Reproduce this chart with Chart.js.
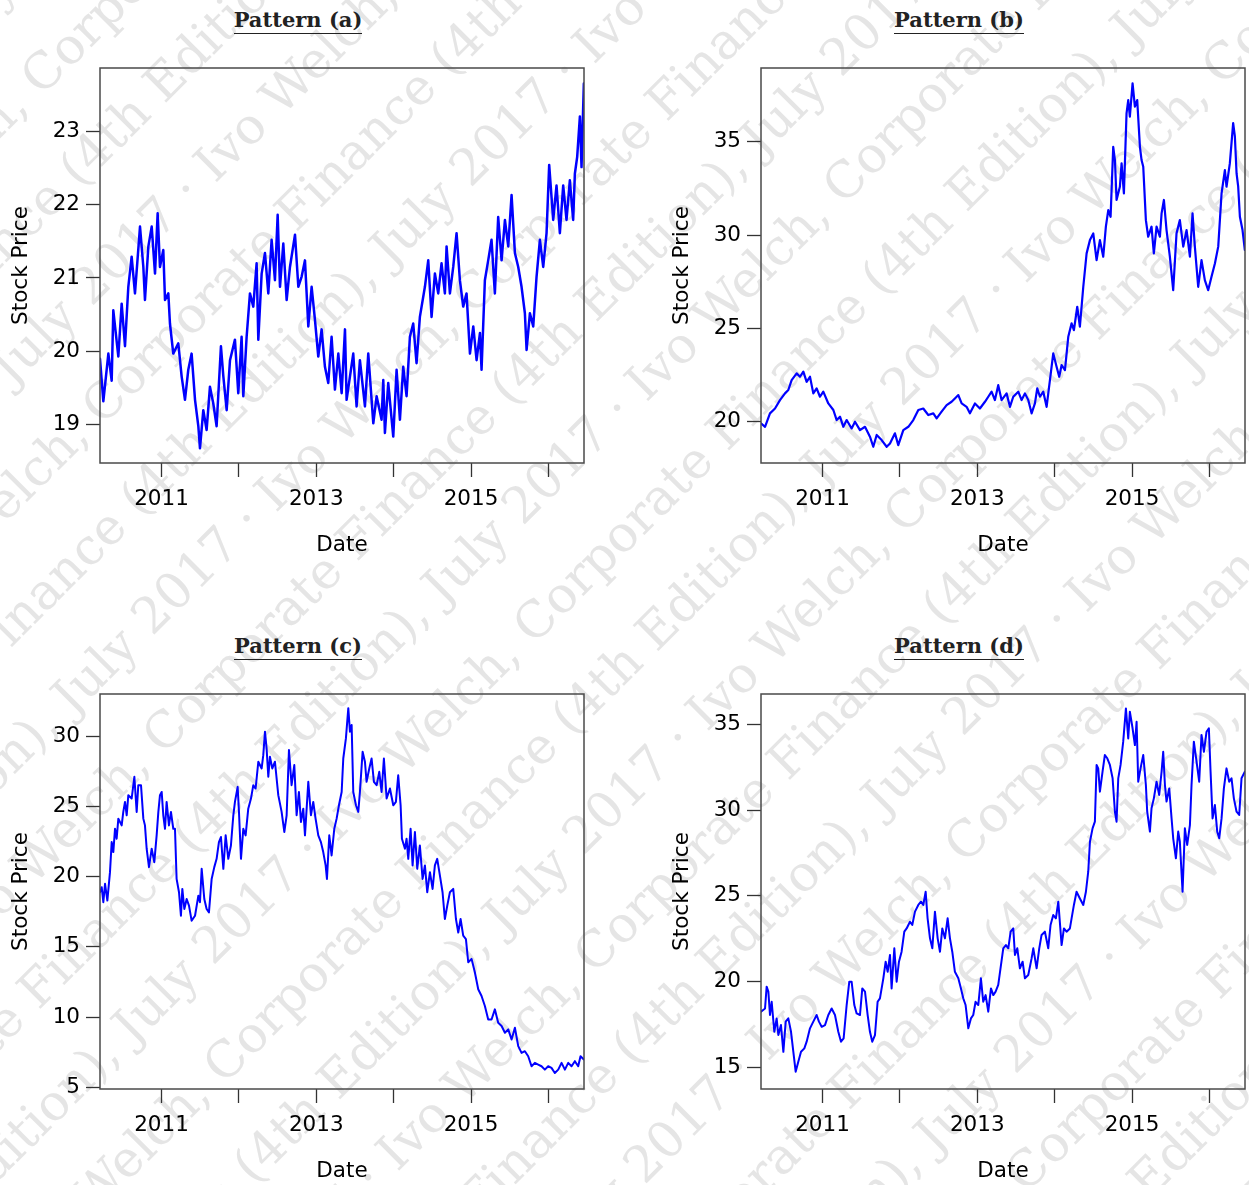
<!DOCTYPE html>
<html>
<head>
<meta charset="utf-8">
<script src="https://cdn.jsdelivr.net/npm/chart.js@4.4.1/dist/chart.umd.min.js"></script>
<style>
  html, body { margin: 0; padding: 0; background: #fff; }
  body { width: 1249px; height: 1185px; position: relative; overflow: hidden; }
  #wm { position: absolute; left: 0; top: 0; transform: rotate(-45deg); transform-origin: 0 0;
        font-family: "DejaVu Serif", serif; font-size: 50px; color: #e5e5e5; white-space: nowrap; pointer-events: none; }
  #wm div { position: absolute; }
  .panel { position: absolute; }
  .ttl { position: absolute; width: 596px; text-align: center; font-family: "DejaVu Serif", serif;
         font-weight: bold; font-size: 21px; line-height: 21px; color: #222; }
  .ttl span { display: inline-block; padding-bottom: 3px; border-bottom: 1.5px solid #222; }
</style>
</head>
<body>
<div id="wm"></div>
<div class="ttl" style="left:0;top:9px"><span>Pattern (a)</span></div>
<div class="ttl" style="left:661px;top:9px"><span>Pattern (b)</span></div>
<div class="ttl" style="left:0;top:635px"><span>Pattern (c)</span></div>
<div class="ttl" style="left:661px;top:635px"><span>Pattern (d)</span></div>
<canvas id="chart-a" class="panel" width="600" height="560" style="left:0;top:0"></canvas>
<canvas id="chart-b" class="panel" width="588" height="560" style="left:661px;top:0"></canvas>
<canvas id="chart-c" class="panel" width="600" height="560" style="left:0;top:626px"></canvas>
<canvas id="chart-d" class="panel" width="588" height="560" style="left:661px;top:626px"></canvas>
<script>
/* four simulated stock price paths, 2010-2016 */

const yearTicks = [2011, 2012, 2013, 2014, 2015, 2016];
const yearLabels = ["2011", "", "2013", "", "2015", ""];
const xMin = 2010.205, xMax = 2016.46;

const ticksA = [19, 20, 21, 22, 23];
const ticksB = [20, 25, 30, 35];
const ticksC = [5, 10, 15, 20, 25, 30];
const ticksD = [15, 20, 25, 30, 35];

const yearsA = [
  2010.205, 2010.248, 2010.313, 2010.356, 2010.377, 2010.442, 2010.485, 2010.528, 2010.571, 2010.614,
  2010.657, 2010.722, 2010.765, 2010.786, 2010.830, 2010.873, 2010.916, 2010.950, 2010.980, 2011.023,
  2011.045, 2011.088, 2011.109, 2011.152, 2011.217, 2011.260, 2011.303, 2011.346, 2011.389, 2011.433,
  2011.476, 2011.497, 2011.540, 2011.583, 2011.626, 2011.669, 2011.712, 2011.768, 2011.799, 2011.842,
  2011.885, 2011.949, 2011.992, 2012.035, 2012.057, 2012.100, 2012.143, 2012.186, 2012.229, 2012.251,
  2012.294, 2012.337, 2012.380, 2012.423, 2012.466, 2012.501, 2012.531, 2012.574, 2012.617, 2012.660,
  2012.725, 2012.768, 2012.811, 2012.854, 2012.897, 2012.940, 2012.983, 2013.026, 2013.069, 2013.112,
  2013.155, 2013.198, 2013.241, 2013.285, 2013.328, 2013.371,
  2013.392, 2013.478, 2013.521, 2013.564, 2013.629, 2013.672, 2013.737, 2013.780, 2013.844, 2013.866,
  2013.887, 2013.930, 2013.995, 2014.038, 2014.081, 2014.124, 2014.167, 2014.210, 2014.253, 2014.296,
  2014.339, 2014.404, 2014.447, 2014.490, 2014.533, 2014.576, 2014.619, 2014.662, 2014.684, 2014.727,
  2014.770, 2014.813, 2014.856, 2014.899, 2014.942, 2014.986, 2015.029, 2015.072, 2015.115, 2015.136,
  2015.179, 2015.222, 2015.265, 2015.308, 2015.351, 2015.395, 2015.438, 2015.481, 2015.524, 2015.567,
  2015.610, 2015.653, 2015.696, 2015.718, 2015.761, 2015.804, 2015.847, 2015.890, 2015.933, 2015.976,
  2016.010, 2016.062, 2016.105, 2016.148, 2016.191, 2016.234, 2016.277, 2016.320, 2016.342, 2016.372,
  2016.407, 2016.428, 2016.458
];
const pricesA = [
  19.90, 19.32, 19.97, 19.60, 20.56, 19.93, 20.65, 20.07, 20.88, 21.29,
  20.79, 21.70, 21.15, 20.70, 21.43, 21.70, 21.06, 21.88, 21.15, 21.38,
  20.70, 20.79, 20.38, 19.97, 20.11, 19.66, 19.34, 19.75, 19.97, 19.34,
  18.98, 18.68, 19.20, 18.93, 19.52, 19.29, 18.98, 20.07, 19.66, 19.20,
  19.88, 20.16, 19.43, 20.20, 19.39, 20.20, 20.79, 20.61, 21.20, 20.16,
  21.06, 21.34, 20.79, 21.52, 20.97, 21.86, 20.88, 21.47, 20.70, 21.15,
  21.59, 20.88, 21.02, 21.24, 20.34, 20.88, 20.43, 19.93, 20.30, 19.79,
  19.57, 20.20, 19.48, 19.97, 19.43, 20.30,
  19.34, 19.97, 19.25, 19.88, 19.25, 19.97, 19.02, 19.39, 19.07, 19.61,
  18.89, 19.57, 18.84, 19.75, 19.07, 19.79, 19.39, 20.20, 20.38, 19.84,
  20.47, 20.88, 21.24, 20.47, 21.06, 20.79, 21.20, 20.79, 21.43, 20.79,
  21.15, 21.61, 20.97, 20.61, 20.79, 19.97, 20.34, 19.88, 20.25, 19.75,
  20.97, 21.24, 21.52, 20.79, 21.83, 21.24, 21.79, 21.43, 22.13, 21.34,
  21.15, 20.88, 20.52, 20.02, 20.52, 20.34, 21.02, 21.52, 21.15, 21.61,
  22.54, 21.79, 22.26, 21.61, 22.26, 21.79, 22.33, 21.79, 22.42, 22.65,
  23.20, 22.51, 23.65
];

const yearsB = [
  2010.205, 2010.257, 2010.321, 2010.386, 2010.450, 2010.515, 2010.558, 2010.601, 2010.666, 2010.709,
  2010.752, 2010.795, 2010.838, 2010.881, 2010.924, 2010.967, 2011.010, 2011.075, 2011.140, 2011.183,
  2011.226, 2011.269, 2011.312, 2011.376, 2011.420, 2011.484, 2011.549, 2011.613, 2011.656, 2011.700,
  2011.764, 2011.829, 2011.872, 2011.936, 2011.979, 2012.044, 2012.109, 2012.173, 2012.238, 2012.302,
  2012.367, 2012.432, 2012.475, 2012.539, 2012.604, 2012.668, 2012.711, 2012.755, 2012.798, 2012.862,
  2012.905, 2012.970, 2013.034, 2013.099, 2013.142, 2013.185, 2013.228, 2013.271, 2013.314,
  2013.379, 2013.422, 2013.465, 2013.530, 2013.573, 2013.616, 2013.659, 2013.702, 2013.745, 2013.775,
  2013.810, 2013.853, 2013.896, 2013.939, 2013.982, 2014.025, 2014.059, 2014.090, 2014.133, 2014.176,
  2014.219, 2014.249, 2014.292, 2014.326, 2014.370, 2014.413, 2014.456, 2014.499, 2014.542, 2014.585,
  2014.628, 2014.662, 2014.693, 2014.723, 2014.757, 2014.779, 2014.800, 2014.843, 2014.865, 2014.895,
  2014.929, 2014.951, 2014.972, 2015.007, 2015.037, 2015.067, 2015.102, 2015.123, 2015.145, 2015.179,
  2015.209, 2015.252, 2015.282, 2015.317, 2015.360, 2015.382, 2015.412, 2015.446, 2015.489, 2015.532,
  2015.575, 2015.618, 2015.662, 2015.705, 2015.748, 2015.782, 2015.812, 2015.855, 2015.898, 2015.941,
  2015.984, 2016.027, 2016.071, 2016.114, 2016.157, 2016.200, 2016.221, 2016.264, 2016.307, 2016.329,
  2016.351, 2016.372, 2016.394, 2016.428, 2016.458
];
const pricesB = [
  19.91, 19.73, 20.45, 20.71, 21.16, 21.52, 21.70, 22.23, 22.59, 22.41,
  22.68, 22.14, 22.41, 21.52, 21.79, 21.34, 21.61, 20.98, 20.63, 20.09,
  20.27, 19.73, 20.09, 19.64, 20.00, 19.55, 19.73, 19.20, 18.66, 19.29,
  19.02, 18.66, 18.84, 19.38, 18.75, 19.55, 19.73, 20.09, 20.63, 20.71,
  20.36, 20.45, 20.18, 20.54, 20.89, 21.07, 21.25, 21.43, 20.98, 20.80,
  20.45, 20.98, 20.71, 21.07, 21.34, 21.61, 21.16, 21.96, 21.16,
  21.52, 20.80, 21.34, 21.61, 21.16, 21.52, 21.16, 20.45, 20.98, 21.79,
  21.34, 21.61, 20.80, 22.23, 23.66, 22.95, 22.41, 23.04, 22.77, 24.55,
  25.27, 24.91, 26.16, 25.09, 27.23, 29.02, 29.73, 30.09, 28.66, 29.73,
  28.84, 30.45, 31.34, 30.98, 34.73, 34.02, 31.88, 32.59, 33.84, 32.23,
  36.52, 37.23, 36.34, 38.13, 36.88, 37.23, 34.73, 34.02, 33.66, 30.80,
  29.91, 30.45, 29.02, 30.45, 29.91, 31.16, 31.88, 30.27, 28.84, 27.05,
  30.09, 30.80, 29.38, 30.27, 28.84, 31.16, 29.38, 27.23, 28.66, 27.59,
  27.05, 27.77, 28.48, 29.38, 32.23, 33.48, 32.59, 33.84, 36.00, 35.29,
  33.30, 32.59, 30.98, 30.27, 29.20
];

const yearsC = [
  2010.205, 2010.227, 2010.248, 2010.270, 2010.300, 2010.334, 2010.356, 2010.377, 2010.399, 2010.420,
  2010.442, 2010.485, 2010.506, 2010.528, 2010.550, 2010.571, 2010.614, 2010.649, 2010.679, 2010.700,
  2010.735, 2010.765, 2010.786, 2010.808, 2010.838, 2010.873, 2010.907, 2010.937, 2010.959, 2010.980,
  2011.002, 2011.023, 2011.045, 2011.066, 2011.096, 2011.122, 2011.152, 2011.174, 2011.195, 2011.226,
  2011.251, 2011.269, 2011.295, 2011.325, 2011.355, 2011.389, 2011.433, 2011.476, 2011.497, 2011.519,
  2011.553, 2011.583, 2011.613, 2011.648, 2011.682, 2011.712, 2011.742, 2011.768, 2011.799, 2011.829,
  2011.863, 2011.897, 2011.928, 2011.949, 2011.984, 2012.001, 2012.027, 2012.057, 2012.087, 2012.121,
  2012.156, 2012.186, 2012.216, 2012.251, 2012.294, 2012.315, 2012.337, 2012.358, 2012.380, 2012.401,
  2012.432, 2012.466, 2012.509, 2012.552, 2012.587, 2012.617, 2012.647, 2012.681, 2012.716, 2012.746,
  2012.776, 2012.802, 2012.832, 2012.854, 2012.897, 2012.931, 2012.961, 2012.991, 2013.026, 2013.060,
  2013.090, 2013.121, 2013.138, 2013.168, 2013.198, 2013.233, 2013.263, 2013.293, 2013.328,
  2013.349, 2013.383, 2013.414, 2013.435, 2013.457, 2013.478, 2013.513, 2013.543, 2013.564, 2013.599,
  2013.629, 2013.650, 2013.685, 2013.715, 2013.745, 2013.780, 2013.814, 2013.844, 2013.874, 2013.909,
  2013.952, 2013.995, 2014.029, 2014.059, 2014.090, 2014.107, 2014.146, 2014.167, 2014.189, 2014.219,
  2014.245, 2014.275, 2014.305, 2014.339, 2014.374, 2014.404, 2014.434, 2014.469, 2014.503, 2014.533,
  2014.563, 2014.598, 2014.632, 2014.662, 2014.693, 2014.727, 2014.770, 2014.805, 2014.835, 2014.865,
  2014.899, 2014.934, 2014.964, 2015.007, 2015.050, 2015.093, 2015.136, 2015.179, 2015.222, 2015.265,
  2015.308, 2015.351, 2015.395, 2015.438, 2015.481, 2015.524, 2015.567, 2015.610, 2015.653, 2015.696,
  2015.739, 2015.782, 2015.825, 2015.868, 2015.911, 2015.954, 2015.997, 2016.040, 2016.083, 2016.127,
  2016.170, 2016.213, 2016.256, 2016.299, 2016.342, 2016.385, 2016.415, 2016.458
];
const pricesC = [
  18.88, 19.24, 18.17, 19.48, 18.29, 20.31, 22.45, 21.74, 23.40, 22.69,
  24.12, 23.64, 24.60, 25.31, 24.36, 25.79, 25.55, 27.10, 24.60, 26.50,
  26.50, 24.12, 23.64, 21.98, 20.67, 21.98, 21.02, 22.93, 24.60, 25.79,
  26.02, 24.36, 23.40, 25.31, 23.64, 24.60, 23.40, 23.40, 19.83, 18.88,
  17.21, 19.12, 17.69, 18.40, 17.93, 16.86, 17.21, 18.64, 18.17, 20.55,
  18.40, 17.69, 17.45, 19.83, 20.67, 21.26, 22.45, 22.81, 20.55, 22.93,
  21.26, 22.21, 24.36, 25.31, 26.38, 24.60, 21.26, 23.40, 22.93, 24.83,
  25.55, 26.50, 26.26, 28.17, 27.69, 28.64, 30.31, 29.12, 27.10, 28.52,
  27.69, 28.17, 25.79, 24.60, 23.17, 24.36, 29.00, 26.50, 27.93, 24.36,
  26.02, 23.88, 24.83, 22.93, 26.74, 24.36, 25.31, 24.12, 22.93, 22.45,
  21.74, 20.79, 19.83, 22.93, 21.50, 23.40, 24.12, 25.07, 26.02,
  28.40, 29.83, 31.98, 30.31, 30.79, 26.02, 25.07, 24.60, 26.02, 28.88,
  28.17, 26.74, 27.69, 28.40, 26.74, 26.50, 27.45, 26.02, 28.40, 25.55,
  26.26, 25.07, 25.31, 27.21, 25.07, 22.69, 21.98, 22.69, 21.26, 23.40,
  20.79, 23.17, 20.55, 22.21, 19.83, 20.79, 18.88, 20.31, 19.12, 20.79,
  21.26, 20.07, 18.88, 16.98, 17.93, 18.88, 19.12, 16.98, 16.02, 16.98,
  15.79, 15.55, 13.90, 14.14, 13.17, 11.98, 11.50, 10.79, 9.83, 9.83,
  10.55, 9.60, 9.36, 8.88, 9.12, 8.40, 9.24, 7.93, 7.45, 7.57,
  7.21, 6.50, 6.74, 6.62, 6.50, 6.26, 6.50, 6.38, 6.02, 6.26,
  6.74, 6.26, 6.74, 6.50, 6.86, 6.50, 7.21, 6.98
];

const yearsD = [
  2010.205, 2010.257, 2010.278, 2010.300, 2010.321, 2010.343, 2010.377, 2010.407, 2010.429, 2010.463,
  2010.494, 2010.524, 2010.558, 2010.593, 2010.623, 2010.653, 2010.687, 2010.722, 2010.765, 2010.795,
  2010.838, 2010.881, 2010.924, 2010.954, 2010.989, 2011.032, 2011.075, 2011.118, 2011.161, 2011.204,
  2011.239, 2011.273, 2011.312, 2011.346, 2011.376, 2011.411, 2011.441, 2011.484, 2011.514, 2011.549,
  2011.583, 2011.613, 2011.643, 2011.678, 2011.712, 2011.742, 2011.786, 2011.816, 2011.842, 2011.872,
  2011.893, 2011.928, 2011.958, 2011.988, 2012.022, 2012.057, 2012.087, 2012.130, 2012.160, 2012.195,
  2012.238, 2012.272, 2012.302, 2012.333, 2012.358, 2012.389, 2012.419, 2012.453, 2012.488, 2012.518,
  2012.548, 2012.582, 2012.617, 2012.647, 2012.677, 2012.711, 2012.755, 2012.789, 2012.819, 2012.849,
  2012.884, 2012.918, 2012.948, 2012.978, 2013.013, 2013.047, 2013.077, 2013.108, 2013.142, 2013.177,
  2013.207, 2013.237, 2013.271,
  2013.336, 2013.370, 2013.401, 2013.431, 2013.465, 2013.487, 2013.517, 2013.551, 2013.586, 2013.616,
  2013.659, 2013.702, 2013.724, 2013.767, 2013.801, 2013.831, 2013.874, 2013.917, 2013.947, 2013.982,
  2014.016, 2014.047, 2014.090, 2014.120, 2014.154, 2014.197, 2014.219, 2014.249, 2014.283, 2014.326,
  2014.370, 2014.404, 2014.434, 2014.456, 2014.490, 2014.520, 2014.542, 2014.563, 2014.585, 2014.619,
  2014.649, 2014.680, 2014.714, 2014.749, 2014.779, 2014.800, 2014.822, 2014.852, 2014.886, 2014.921,
  2014.951, 2014.972, 2015.007, 2015.037, 2015.059, 2015.080, 2015.110, 2015.145, 2015.179, 2015.196,
  2015.231, 2015.252, 2015.282, 2015.317, 2015.351, 2015.382, 2015.403, 2015.425, 2015.446, 2015.481,
  2015.511, 2015.532, 2015.567, 2015.597, 2015.618, 2015.653, 2015.683, 2015.713, 2015.748, 2015.769,
  2015.799, 2015.834, 2015.868, 2015.898, 2015.929, 2015.963, 2015.993, 2016.015, 2016.041, 2016.071,
  2016.101, 2016.127, 2016.157, 2016.187, 2016.221, 2016.256, 2016.286, 2016.316, 2016.351, 2016.385,
  2016.415, 2016.458
];
const pricesD = [
  18.23, 18.42, 19.69, 19.40, 18.04, 18.81, 17.06, 17.84, 16.87, 17.45,
  15.89, 17.65, 17.84, 17.06, 15.89, 14.73, 15.31, 15.89, 16.09, 16.48,
  17.26, 17.65, 18.04, 17.65, 17.35, 17.45, 18.04, 18.42, 18.04, 17.06,
  16.48, 16.67, 18.62, 19.98, 19.98, 18.62, 18.13, 18.04, 19.59, 19.40,
  18.04, 17.06, 16.48, 16.87, 18.81, 19.01, 20.18, 21.15, 20.56, 21.54,
  19.59, 21.93, 19.98, 21.15, 21.73, 22.90, 23.09, 23.48, 23.29, 24.07,
  24.46, 24.65, 24.46, 25.23, 23.68, 22.51, 21.93, 24.07, 22.51, 21.73,
  23.09, 22.51, 23.68, 22.51, 21.73, 20.56, 20.18, 19.59, 19.01, 18.62,
  17.26, 17.84, 18.04, 18.81, 18.62, 20.18, 18.81, 19.20, 18.23, 19.59,
  19.20, 19.40, 19.79,
  21.93, 22.12, 21.93, 22.90, 23.09, 21.54, 21.93, 20.76, 21.15, 20.18,
  20.37, 21.34, 21.93, 20.76, 21.93, 22.71, 22.90, 21.93, 23.29, 23.87,
  23.68, 24.65, 22.12, 23.09, 22.90, 23.09, 23.68, 24.46, 25.23, 24.84,
  24.46, 25.23, 26.40, 28.15, 28.93, 29.32, 32.63, 32.43, 31.07, 32.24,
  33.21, 33.02, 32.63, 31.85, 29.90, 29.32, 31.85, 32.63, 33.99, 35.93,
  34.18, 35.74, 34.77, 33.79, 35.15, 31.65, 32.43, 33.21, 31.46, 29.90,
  28.74, 30.10, 30.68, 31.65, 30.88, 32.24, 33.40, 31.46, 30.49, 31.26,
  29.51, 28.35, 27.18, 28.74, 28.15, 25.23, 28.93, 27.96, 29.12, 31.46,
  33.99, 32.82, 31.65, 34.38, 33.40, 34.57, 34.77, 32.24, 29.51, 30.29,
  28.74, 28.35, 29.51, 31.26, 32.43, 31.65, 31.85, 30.68, 29.90, 29.71,
  31.85, 32.24
];

const wmText = "Ivo Welch, Corporate Finance (4th Edition), July 2017 \u00b7 ";

const AXIS_FONT = { family: "DejaVu Sans", size: 21.5 };

const frameBox = {
  id: "frameBox",
  afterDatasetsDraw(chart) {
    const { ctx, chartArea: a } = chart;
    ctx.save();
    ctx.strokeStyle = "#4a4a4a";
    ctx.lineWidth = 1.5;
    ctx.strokeRect(a.left, a.top, a.right - a.left, a.bottom - a.top);
    ctx.restore();
  },
};

function renderPanel(canvasId, years, prices, yMin, yMax, yTicks, lineWidth) {
  const canvas = document.getElementById(canvasId);
  if (!canvas || typeof Chart === "undefined") return;
  const rightPad = canvas.width - 584;
  new Chart(canvas, {
    type: "line",
    data: {
      datasets: [{
        data: years.map((x, i) => ({ x, y: prices[i] })),
        borderColor: "#0000ff",
        borderWidth: lineWidth,
        borderJoinStyle: "round",
        borderCapStyle: "round",
        pointRadius: 0,
        tension: 0,
        fill: false,
      }],
    },
    options: {
      responsive: false,
      animation: false,
      devicePixelRatio: 1,
      layout: { padding: { left: 0, right: rightPad, top: 68, bottom: 0 } },
      plugins: { legend: { display: false }, tooltip: { enabled: false } },
      scales: {
        x: {
          type: "linear",
          min: xMin,
          max: xMax,
          afterBuildTicks: (s) => { s.ticks = yearTicks.map((v) => ({ value: v })); },
          afterFit: (s) => { s.height = 97; },
          grid: { drawOnChartArea: false, drawTicks: true, tickLength: 14, tickColor: "#333", tickWidth: 1.3 },
          border: { display: false },
          ticks: {
            autoSkip: false, maxRotation: 0, padding: 10, color: "#000", font: AXIS_FONT,
            callback: (v) => yearLabels[yearTicks.indexOf(v)],
          },
          title: { display: true, text: "Date", color: "#000", font: AXIS_FONT, padding: { top: 0, bottom: 2 } },
        },
        y: {
          min: yMin,
          max: yMax,
          afterBuildTicks: (s) => { s.ticks = yTicks.map((v) => ({ value: v })); },
          afterFit: (s) => { s.width = 100; },
          grid: { drawOnChartArea: false, drawTicks: true, tickLength: 14, tickColor: "#333", tickWidth: 1.3 },
          border: { display: false },
          ticks: { autoSkip: false, padding: 6, color: "#000", font: AXIS_FONT },
          title: { display: true, text: "Stock Price", color: "#000", font: AXIS_FONT, padding: { top: 9, bottom: 0 } },
        },
      },
    },
    plugins: [frameBox],
  });
}

function drawWatermark() {
  const wm = document.getElementById("wm");
  for (let k = 0; k < 21; k++) {
    const line = document.createElement("div");
    line.textContent = wmText.repeat(5);
    line.style.top = (k * 92 - 40) + "px";
    line.style.left = (-1200 - (k * 530) % 1400) + "px";
    wm.appendChild(line);
  }
}

drawWatermark();
renderPanel("chart-a", yearsA, pricesA, 18.48, 23.86, ticksA, 2.5);
renderPanel("chart-b", yearsB, pricesB, 17.79, 38.95, ticksB, 2.2);
renderPanel("chart-c", yearsC, pricesC, 4.88, 32.99, ticksC, 2);
renderPanel("chart-d", yearsD, pricesD, 13.72, 36.77, ticksD, 2);
</script>
</body>
</html>
